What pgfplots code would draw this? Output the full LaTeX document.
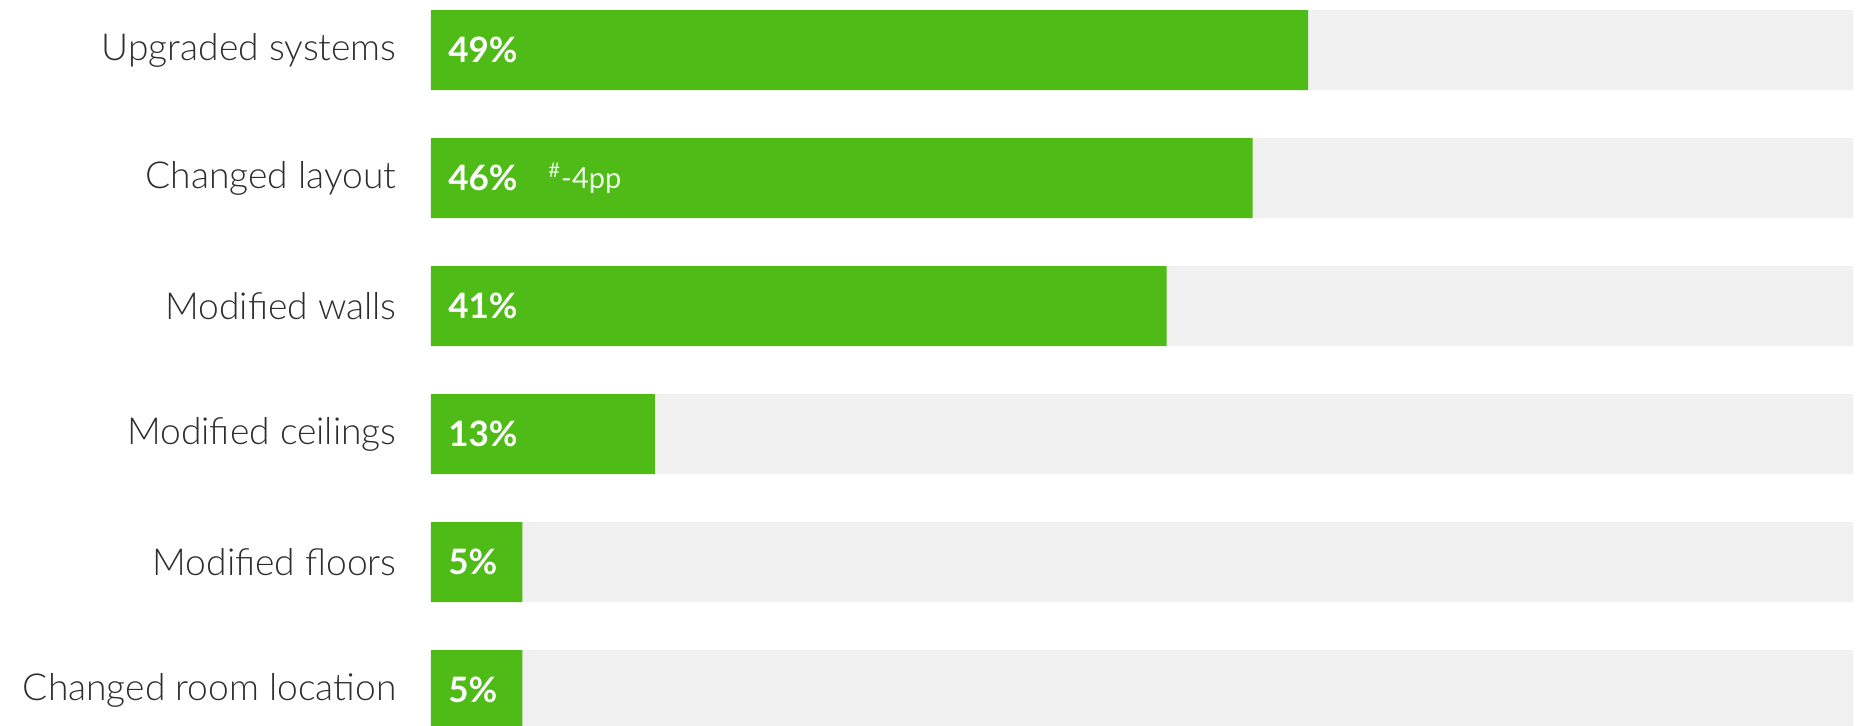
\documentclass[border=0pt]{standalone}
\usepackage{fontspec}
\setmainfont{Lato}
\newfontfamily\lightfont{Lato Light}
\usepackage{pgfplots}
\pgfplotsset{compat=1.18}
\definecolor{barg}{HTML}{4EBB16}
\definecolor{bgg}{HTML}{F1F1F1}
\definecolor{lab}{HTML}{2E2E2E}
\begin{document}
\begin{tikzpicture}
\useasboundingbox (-215.5pt,0) rectangle (718.5pt,362.5pt);
\begin{axis}[
  at={(0,0)}, anchor=south west,
  scale only axis, width=711pt, height=362.5pt,
  xmin=0, xmax=79.44, ymin=-0.390625, ymax=5.2734375,
  y dir=reverse,
  axis line style={draw=none},
  major tick length=0pt,
  xtick=\empty,
  ytick={0,1,2,3,4,5},
  yticklabels={Upgraded systems,Changed layout,Modified walls,Modified ceilings,Modified floors,Changed room location},
  yticklabel style={anchor=east, inner sep=0pt, xshift=-17pt, text=lab, font=\lightfont\fontsize{18.6}{18.6}\selectfont},
  clip=true,
]
\addplot[xbar, bar width=40pt, bar shift=0pt, fill=bgg, draw=none] coordinates {(79.44,0) (79.44,1) (79.44,2) (79.44,3) (79.44,4) (79.44,5)};
\addplot[xbar, bar width=40pt, bar shift=0pt, fill=barg, draw=none] coordinates {(49,0) (45.9,1) (41.1,2) (12.5,3) (5.1,4) (5.1,5)};
\addplot[draw=none, mark=none, point meta=explicit symbolic,
  nodes near coords={\pgfplotspointmeta\%},
  every node near coord/.style={anchor=west, inner sep=0pt, xshift=8.5pt, text=white, font=\bfseries\fontsize{17.5}{17.5}\selectfont}]
  coordinates {(0,0) [49] (0,1) [46] (0,2) [41] (0,3) [13] (0,4) [5] (0,5) [5]};
\node[anchor=west, inner sep=0pt, text=white!90!barg, font=\fontsize{14.5}{14.5}\selectfont] at (axis cs:6.54,1) {\textsuperscript{\#}-4pp};
\end{axis}
\end{tikzpicture}
\end{document}
